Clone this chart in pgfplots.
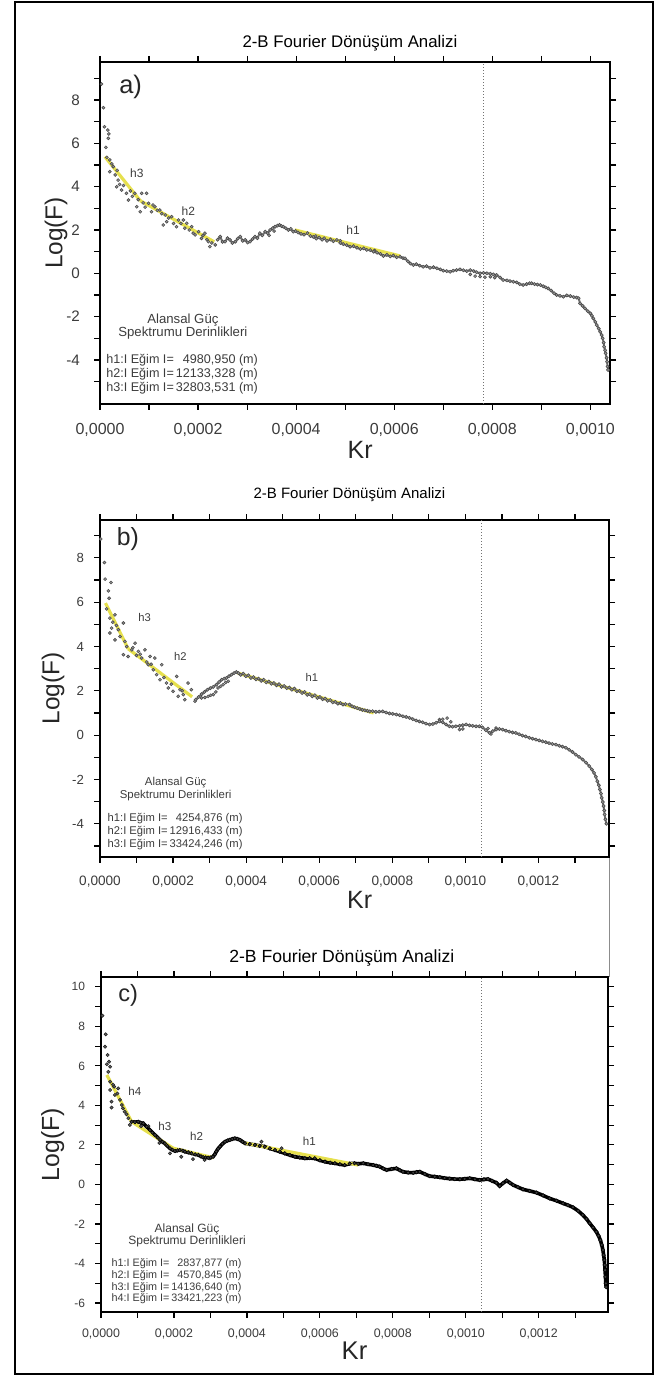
\documentclass[border=0pt]{standalone}
\usepackage{fontspec}
\setmainfont{Liberation Sans}
\usepackage{pgfplots}
\pgfplotsset{compat=1.18}

\definecolor{fitline}{RGB}{230,224,78}
\definecolor{txt}{RGB}{60,60,60}

\newcommand{\fs}[1]{\fontsize{#1}{1.2\dimexpr#1\relax}\selectfont}

\pgfplotsset{
  spek/.style={
    scale only axis, anchor=south west, xmin=0,
    axis line style={line width=1.1pt},
    tick align=outside, major tick length=3pt, minor tick length=3pt,
    every tick/.style={black, line width=0.6pt},
    xtick={0,2,4,6,8,10,12}, minor xtick={1,3,5,7,9,11,13},
    xticklabels={{0,0000},{0,0002},{0,0004},{0,0006},{0,0008},{0,0010},{0,0012}},
    minor ytick={-5,-3,-1,1,3,5,7,9},
    tick label style={text=txt},
    xlabel={Kr}, ylabel={Log(F)},
    label style={text=black!85},
    title={2-B Fourier Dönüşüm Analizi},
  },
  pts/.style={only marks, mark=*, mark size=0.75pt,
    mark options={draw=black!70, fill=black!40, line width=0.3pt}},
  band/.style={black!55, line width=1pt, mark=*, mark size=0.8pt,
    mark options={draw=black!70, fill=black!40, line width=0.3pt}},
  yfit/.style={fitline, line width=1.6pt},
  vdot/.style={black!55, densely dotted, line width=0.5pt},
}

\begin{document}
\begin{tikzpicture}
\useasboundingbox (0,0) rectangle (332.5pt,688pt);
\draw[line width=1pt] (7.5pt,1pt) rectangle (326.5pt,687pt);
\draw[black!45, line width=0.5pt] (304.5pt,259.5pt) -- (304.5pt,199.5pt);

% ---------------- a)
\begin{axis}[spek, at={(50pt,486pt)}, width=255pt, height=171pt,
  xmax=10.4, ymin=-6.03, ymax=9.75,
  ytick={-4,-2,0,2,4,6,8}, yticklabels={-4,-2,0,2,4,6,8},
  x tick label style={font=\fs{8pt}, yshift=-3pt},
  y tick label style={font=\fs{7.6pt}, xshift=-3.5pt},
  xlabel style={at={(axis description cs:0.51,-0.1345)}, anchor=center, font=\fs{12.5pt}},
  ylabel style={at={(axis description cs:-0.086,0.5)}, anchor=center, font=\fs{12.2pt}},
  title style={at={(axis description cs:0.49,1.056)}, anchor=center, yshift=-6pt, font=\fs{8.4pt}},
]
\addplot[vdot] coordinates {(7.83,-6.03) (7.83,9.75)};
\addplot[pts] coordinates {
(0.03,8.73) (0.07,7.64) (0.09,6.76) (0.16,6.61) (0.18,6.43) (0.17,6.23)
(0.12,5.81) (0.14,5.35) (0.20,5.23) (0.27,4.92) (0.20,4.69) (0.24,5.05)
(0.31,4.54) (0.35,4.75) (0.37,4.30) (0.34,3.99) (0.40,4.10) (0.44,3.84)
(0.48,4.05) (0.54,3.69) (0.58,3.38) (0.62,3.80) (0.66,3.55) (0.71,3.69)
(0.75,3.07) (0.78,3.40) (0.82,2.84) (0.85,3.69) (0.88,3.25) (0.95,3.69)
(0.92,3.05) (0.99,3.23) (1.05,2.84) (1.08,3.15) (1.12,3.07) (1.17,2.90)
(1.22,2.92) (1.26,2.75) (1.29,2.23) (1.33,2.69) (1.36,2.38) (1.40,2.55)
(1.46,2.61) (1.50,2.30) (1.56,2.15) (1.60,2.46) (1.65,2.30) (1.70,2.46)
(1.73,2.08) (1.77,2.31) (1.82,2.00) (1.87,2.15) (1.90,1.85) (1.94,1.77)
(2.01,1.92) (2.07,1.61) (2.10,1.75) (2.14,1.85) (2.18,1.55) (2.21,1.46)
(2.24,1.23) (2.28,1.40) (2.35,1.31)
(7.55,-0.05) (7.65,-0.13) (7.75,-0.15) (7.85,-0.18) (7.96,-0.16) (8.05,-0.20)
(3.45,1.75) (3.55,1.95) (4.40,1.72) (4.90,1.50) (5.60,1.05)};
\addplot[band] coordinates {
(2.40,1.55) (2.45,1.69) (2.50,1.45) (2.55,1.46) (2.60,1.62) (2.65,1.54)
(2.70,1.40) (2.76,1.46) (2.81,1.60) (2.86,1.69) (2.91,1.50) (2.96,1.54)
(3.01,1.42) (3.06,1.46) (3.11,1.58) (3.16,1.69) (3.21,1.62) (3.26,1.85)
(3.31,1.75) (3.37,1.92) (3.42,1.85) (3.47,2.00) (3.52,2.08) (3.57,2.15)
(3.62,2.20) (3.66,2.23) (3.70,2.18) (3.74,2.15) (3.79,2.08) (3.84,2.00)
(3.89,2.05) (3.94,1.92) (3.99,1.95) (4.04,1.88) (4.10,1.82) (4.16,1.78)
(4.23,1.85) (4.29,1.72) (4.35,1.68) (4.41,1.60) (4.47,1.65) (4.53,1.55)
(4.57,1.62) (4.63,1.50) (4.70,1.56) (4.76,1.48) (4.83,1.54) (4.90,1.40)
(4.96,1.35) (5.03,1.30) (5.10,1.23) (5.17,1.25) (5.24,1.18) (5.31,1.12)
(5.38,1.15) (5.44,1.08) (5.51,1.07) (5.58,1.00) (5.65,0.95) (5.72,0.90)
(5.78,0.80) (5.85,0.85) (5.92,0.78) (5.98,0.82) (6.05,0.74) (6.12,0.76)
(6.18,0.70) (6.22,0.69) (6.28,0.55) (6.33,0.45) (6.39,0.38) (6.45,0.42)
(6.52,0.35) (6.59,0.30) (6.66,0.33) (6.73,0.25) (6.80,0.28) (6.87,0.23)
(6.94,0.18) (7.00,0.12) (7.07,0.10) (7.14,0.07) (7.20,0.12) (7.27,0.15)
(7.34,0.18) (7.41,0.14) (7.48,0.10) (7.55,0.15) (7.62,0.10) (7.68,0.05)
(7.75,0.00) (7.82,0.02) (7.89,0.00) (7.96,-0.02) (8.02,-0.05) (8.09,-0.08)
(8.16,-0.20) (8.22,-0.31) (8.30,-0.33) (8.36,-0.36) (8.43,-0.39) (8.50,-0.42)
(8.56,-0.50) (8.63,-0.54) (8.70,-0.50) (8.76,-0.46) (8.80,-0.46) (8.86,-0.50)
(8.92,-0.52) (8.98,-0.54) (9.04,-0.60) (9.09,-0.65) (9.14,-0.70) (9.20,-0.80)
(9.26,-0.92) (9.31,-1.00) (9.38,-1.04) (9.45,-1.08) (9.52,-1.02) (9.59,-1.05)
(9.66,-1.10) (9.72,-1.12) (9.76,-1.15) (9.79,-1.39) (9.84,-1.50) (9.89,-1.62)
(9.95,-1.75) (10.00,-1.85) (10.03,-1.96) (10.06,-2.08) (10.10,-2.24) (10.13,-2.39)
(10.17,-2.55) (10.20,-2.70) (10.23,-2.85) (10.25,-3.00) (10.27,-3.20) (10.28,-3.39)
(10.30,-3.55) (10.31,-3.69) (10.33,-3.90) (10.34,-4.08) (10.35,-4.30) (10.36,-4.46)};
\addplot[yfit] coordinates {(0.10,5.38) (0.82,3.35)};
\addplot[yfit] coordinates {(0.82,3.35) (2.33,1.45)};
\addplot[yfit] coordinates {(3.97,2.00) (6.12,0.80)};
\node[anchor=west, font=\fs{12.7pt}, text=black!85] at (axis cs:0.25,8.6) {a)};
\begin{scope}[every node/.style={font=\fs{6pt}, text=txt}]
\node at (axis cs:0.75,4.6) {h3};
\node at (axis cs:1.8,2.85) {h2};
\node at (axis cs:5.16,2.0) {h1};
\end{scope}
\node[align=center, font=\fontsize{6.6pt}{6.7pt}\selectfont, text=txt] at (axis cs:1.69,-2.46)
  {Alansal Güç\\Spektrumu Derinlikleri};
\node[anchor=west, inner sep=0pt, font=\fontsize{6.3pt}{6.9pt}\selectfont, text=txt] at (axis cs:0.12,-4.67)
  {\begin{tabular}{@{}l@{\,}r@{ }l@{}}
   h1:I Eğim I= & 4980,950 & (m)\\
   h2:I Eğim I= & 12133,328 & (m)\\
   h3:I Eğim I= & 32803,531 & (m)
   \end{tabular}};
\end{axis}

% ---------------- b)
\begin{axis}[spek, at={(50pt,259.5pt)}, width=254.5pt, height=168.5pt,
  xmax=13.93, ymin=-5.5, ymax=9.71,
  ytick={-4,-2,0,2,4,6,8}, yticklabels={-4,-2,0,2,4,6,8},
  x tick label style={font=\fs{6.8pt}, yshift=-3pt},
  y tick label style={font=\fs{6.6pt}, xshift=-1.5pt},
  xlabel style={at={(axis description cs:0.51,-0.128)}, anchor=center, font=\fs{12.5pt}},
  ylabel style={at={(axis description cs:-0.092,0.5)}, anchor=center, font=\fs{12.2pt}},
  title style={at={(axis description cs:0.49,1.074)}, anchor=center, yshift=-6pt, font=\fs{7.5pt}},
]
\addplot[vdot] coordinates {(10.45,-5.5) (10.45,9.71)};
\addplot[pts] coordinates {
(0.02,8.85) (0.12,7.79) (0.14,7.04) (0.30,6.89) (0.23,6.51) (0.25,6.18)
(0.18,5.70) (0.41,5.43) (0.27,5.28) (0.64,5.06) (0.32,4.83) (0.50,4.76)
(0.27,4.61) (0.55,4.45) (0.41,4.30) (0.68,4.23) (0.73,4.00) (0.96,4.15)
(0.87,3.85) (1.05,3.78) (1.23,3.85) (0.64,3.63) (0.77,3.55) (1.14,3.48)
(1.37,3.55) (1.50,3.48) (1.32,3.18) (1.46,2.95) (1.69,3.18) (1.55,2.73)
(1.64,2.50) (1.82,2.35) (2.10,2.65) (1.87,2.13) (2.00,1.98) (2.19,2.05)
(2.14,1.75) (2.28,1.83) (2.41,2.35) (2.32,1.60) (2.50,2.05) (2.60,1.53)
(1.00,3.60) (1.10,3.65) (1.28,3.30) (1.40,3.20) (1.75,2.60) (1.95,2.30)
(2.25,2.00) (0.90,3.95) (0.35,5.10) (0.45,4.95)
(2.78,1.68) (2.87,1.70) (2.96,1.75) (3.03,1.80) (3.10,1.83) (3.17,1.95)
(3.23,2.13) (3.30,2.20) (3.37,2.28) (3.44,2.38) (3.51,2.43)
(9.29,0.70) (9.38,0.72) (9.50,0.77) (9.60,0.60) (9.84,0.25) (9.93,0.28)
(10.70,0.05) (10.84,0.32) (10.62,0.30)};
\addplot[band] coordinates {
(2.62,1.60) (2.70,1.72) (2.78,1.85) (2.86,1.95) (2.94,2.05) (3.02,2.12)
(3.10,2.18) (3.19,2.28) (3.26,2.40) (3.33,2.50) (3.40,2.55) (3.46,2.58)
(3.53,2.66) (3.60,2.73) (3.67,2.80) (3.73,2.85) (3.79,2.80) (3.85,2.72)
(3.92,2.78) (3.99,2.66) (4.06,2.70) (4.13,2.58) (4.20,2.62) (4.27,2.52)
(4.34,2.55) (4.41,2.45) (4.48,2.50) (4.55,2.38) (4.62,2.42) (4.69,2.32)
(4.76,2.35) (4.83,2.25) (4.90,2.30) (4.97,2.18) (5.04,2.22) (5.11,2.12)
(5.18,2.15) (5.25,2.05) (5.32,2.10) (5.39,1.98) (5.46,2.00) (5.53,1.90)
(5.60,1.95) (5.67,1.82) (5.74,1.85) (5.81,1.75) (5.88,1.80) (5.95,1.68)
(6.02,1.72) (6.09,1.62) (6.16,1.65) (6.23,1.55) (6.30,1.58) (6.37,1.48)
(6.44,1.50) (6.51,1.42) (6.58,1.45) (6.65,1.38) (6.72,1.40) (6.83,1.38)
(6.90,1.30) (6.97,1.26) (7.04,1.22) (7.11,1.18) (7.18,1.14) (7.25,1.12)
(7.32,1.10) (7.38,1.07) (7.46,1.08) (7.55,1.05) (7.64,1.06) (7.74,1.07)
(7.83,1.02) (7.92,0.98) (8.01,0.96) (8.11,0.93) (8.20,0.90) (8.29,0.85)
(8.38,0.82) (8.47,0.78) (8.56,0.72) (8.65,0.66) (8.74,0.62) (8.83,0.58)
(8.92,0.52) (9.02,0.48) (9.11,0.50) (9.20,0.56) (9.29,0.62) (9.38,0.58)
(9.47,0.48) (9.56,0.40) (9.65,0.38) (9.74,0.40) (9.84,0.42) (9.93,0.45)
(10.02,0.48) (10.11,0.44) (10.20,0.42) (10.29,0.40) (10.38,0.40) (10.47,0.35)
(10.56,0.22) (10.66,0.10) (10.75,0.18) (10.84,0.25) (10.93,0.28) (11.02,0.25)
(11.11,0.20) (11.20,0.16) (11.29,0.12) (11.38,0.10) (11.47,0.04) (11.56,-0.02)
(11.65,-0.06) (11.75,-0.12) (11.84,-0.16) (11.93,-0.20) (12.02,-0.24) (12.11,-0.28)
(12.20,-0.32) (12.29,-0.36) (12.38,-0.40) (12.48,-0.43) (12.57,-0.48) (12.66,-0.52)
(12.75,-0.57) (12.84,-0.66) (12.93,-0.76) (13.02,-0.88) (13.11,-0.98) (13.21,-1.10)
(13.30,-1.24) (13.39,-1.40) (13.46,-1.55) (13.52,-1.70) (13.57,-1.88) (13.61,-2.08)
(13.65,-2.26) (13.68,-2.45) (13.71,-2.64) (13.73,-2.83) (13.76,-3.02) (13.78,-3.20)
(13.80,-3.40) (13.81,-3.58) (13.83,-3.80) (13.86,-4.00)};
\addplot[yfit] coordinates {(0.15,5.96) (0.77,3.90)};
\addplot[yfit] coordinates {(0.77,3.90) (2.52,1.73)};
\addplot[yfit] coordinates {(3.77,2.80) (7.49,1.00)};
\node[anchor=west, font=\fs{12.4pt}, text=black!85] at (axis cs:0.27,8.83) {b)};
\begin{scope}[every node/.style={font=\fs{5.6pt}, text=txt}]
\node at (axis cs:1.22,5.3) {h3};
\node at (axis cs:2.2,3.55) {h2};
\node at (axis cs:5.8,2.6) {h1};
\end{scope}
\node[align=center, font=\fontsize{5.7pt}{6.3pt}\selectfont, text=txt] at (axis cs:2.07,-2.42)
  {Alansal Güç\\Spektrumu Derinlikleri};
\node[anchor=west, inner sep=0pt, font=\fontsize{5.6pt}{6.4pt}\selectfont, text=txt] at (axis cs:0.2,-4.38)
  {\begin{tabular}{@{}l@{\,}r@{ }l@{}}
   h1:I Eğim I= & 4254,876 & (m)\\
   h2:I Eğim I= & 12916,433 & (m)\\
   h3:I Eğim I= & 33424,246 & (m)
   \end{tabular}};
\end{axis}

% ---------------- c)
\begin{axis}[spek, at={(50.5pt,32pt)}, width=253.5pt, height=167.5pt,
  xmax=13.9, ymin=-6.46, ymax=10.5,
  ytick={-6,-4,-2,0,2,4,6,8,10}, yticklabels={-6,-4,-2,0,2,4,6,8,10},
  x tick label style={font=\fs{6.2pt}, yshift=-2pt},
  y tick label style={font=\fs{6pt}, xshift=-1.5pt},
  xlabel style={at={(axis description cs:0.50,-0.115)}, anchor=center, font=\fs{12.8pt}},
  ylabel style={at={(axis description cs:-0.095,0.5)}, anchor=center, font=\fs{12.4pt}},
  title style={at={(axis description cs:0.475,1.057)}, anchor=center, yshift=-6pt, font=\fs{8.8pt}},
]
\addplot[vdot] coordinates {(10.42,-6.46) (10.42,10.5)};
\addplot[only marks, mark=*, mark size=0.8pt,
  mark options={draw=black!85, fill=black!60, line width=0.3pt}] coordinates {
(0.04,8.54) (0.13,7.60) (0.11,6.97) (0.18,6.55) (0.22,6.21) (0.16,6.08)
(0.25,5.96) (0.20,5.70) (0.25,5.20) (0.36,4.95) (0.47,4.86) (0.25,4.78)
(0.38,4.53) (0.29,4.19) (0.52,4.28) (0.57,4.02) (0.29,3.89) (0.65,3.68)
(0.75,3.35) (0.79,3.01) (0.45,4.60) (0.60,3.85) (0.70,3.55) (0.33,5.05)
(1.89,1.57) (2.20,1.40) (2.52,1.28) (2.84,1.24) (2.98,1.32)
(4.40,2.16) (4.95,1.83) (1.10,2.95) (1.30,2.95) (1.60,2.10)};
\addplot[black, line width=1.8pt, mark=*, mark size=0.9pt,
  mark options={draw=black, fill=black!75, line width=0.3pt}] coordinates {
(0.84,3.17) (0.93,3.15) (1.02,3.17) (1.09,3.12) (1.16,3.09) (1.25,2.92)
(1.34,2.75) (1.41,2.62) (1.48,2.50) (1.55,2.38) (1.62,2.25) (1.69,2.15)
(1.75,2.08) (1.82,1.95) (1.89,1.83) (1.96,1.75) (2.03,1.69) (2.10,1.72)
(2.16,1.74) (2.25,1.70) (2.30,1.66) (2.39,1.62) (2.48,1.58) (2.58,1.52)
(2.67,1.49) (2.74,1.42) (2.80,1.38) (2.87,1.36) (2.94,1.35) (3.01,1.36)
(3.07,1.40) (3.12,1.52) (3.16,1.66) (3.21,1.80) (3.26,1.91) (3.33,2.05)
(3.40,2.16) (3.47,2.22) (3.53,2.25) (3.60,2.30) (3.67,2.33) (3.74,2.30)
(3.81,2.25) (3.88,2.16) (3.95,2.08) (4.08,2.04) (4.22,2.00) (4.35,1.95)
(4.49,1.91) (4.63,1.82) (4.77,1.74) (4.90,1.66) (5.04,1.57) (5.18,1.48)
(5.32,1.40) (5.45,1.36) (5.59,1.32) (5.72,1.33) (5.86,1.32) (6.00,1.22)
(6.14,1.15) (6.28,1.10) (6.41,1.07) (6.55,1.02) (6.68,0.98) (6.82,1.05)
(6.95,1.07) (7.05,1.04) (7.19,1.07) (7.32,1.02) (7.46,0.98) (7.55,0.94)
(7.64,0.90) (7.74,0.80) (7.83,0.73) (7.97,0.78) (8.10,0.81) (8.19,0.72)
(8.28,0.64) (8.42,0.60) (8.56,0.59) (8.65,0.62) (8.74,0.64) (8.88,0.52)
(9.01,0.42) (9.15,0.39) (9.29,0.36) (9.42,0.32) (9.56,0.29) (9.70,0.27)
(9.84,0.26) (9.97,0.28) (10.11,0.31) (10.25,0.26) (10.38,0.22) (10.50,0.25)
(10.61,0.27) (10.72,0.18) (10.84,0.08) (10.93,-0.08) (11.02,0.06) (11.12,0.19)
(11.21,0.08) (11.30,-0.03) (11.43,-0.14) (11.57,-0.25) (11.75,-0.33) (11.94,-0.42)
(12.12,-0.56) (12.30,-0.71) (12.49,-0.83) (12.67,-0.96) (12.80,-1.05) (12.94,-1.16)
(13.08,-1.34) (13.21,-1.55) (13.31,-1.75) (13.40,-1.97) (13.49,-2.18) (13.58,-2.40)
(13.64,-2.60) (13.69,-2.82) (13.73,-3.07) (13.76,-3.32) (13.78,-3.58) (13.80,-3.83)
(13.81,-4.08) (13.82,-4.34) (13.83,-4.68) (13.84,-5.01) (13.85,-5.20)};
\addplot[yfit] coordinates {(0.16,5.54) (0.84,3.17)};
\addplot[yfit] coordinates {(0.84,3.17) (1.98,1.83)};
\addplot[yfit] coordinates {(1.98,1.83) (3.08,1.35)};
\addplot[yfit] coordinates {(3.92,2.10) (7.05,0.98)};
\node[anchor=west, font=\fs{11.8pt}, text=black!85] at (axis cs:0.28,9.58) {c)};
\begin{scope}[every node/.style={font=\fs{5.8pt}, text=txt}]
\node at (axis cs:0.93,4.73) {h4};
\node at (axis cs:1.75,2.96) {h3};
\node at (axis cs:2.62,2.44) {h2};
\node at (axis cs:5.71,2.2) {h1};
\end{scope}
\node[align=center, font=\fontsize{6pt}{6.2pt}\selectfont, text=txt] at (axis cs:2.36,-2.57)
  {Alansal Güç\\Spektrumu Derinlikleri};
\node[anchor=west, inner sep=0pt, font=\fontsize{5.4pt}{5.9pt}\selectfont, text=txt] at (axis cs:0.28,-4.935)
  {\begin{tabular}{@{}l@{\,}r@{ }l@{}}
   h1:I Eğim I= & 2837,877 & (m)\\
   h2:I Eğim I= & 4570,845 & (m)\\
   h3:I Eğim I= & 14136,640 & (m)\\
   h4:I Eğim I= & 33421,223 & (m)
   \end{tabular}};
\end{axis}
\end{tikzpicture}
\end{document}
